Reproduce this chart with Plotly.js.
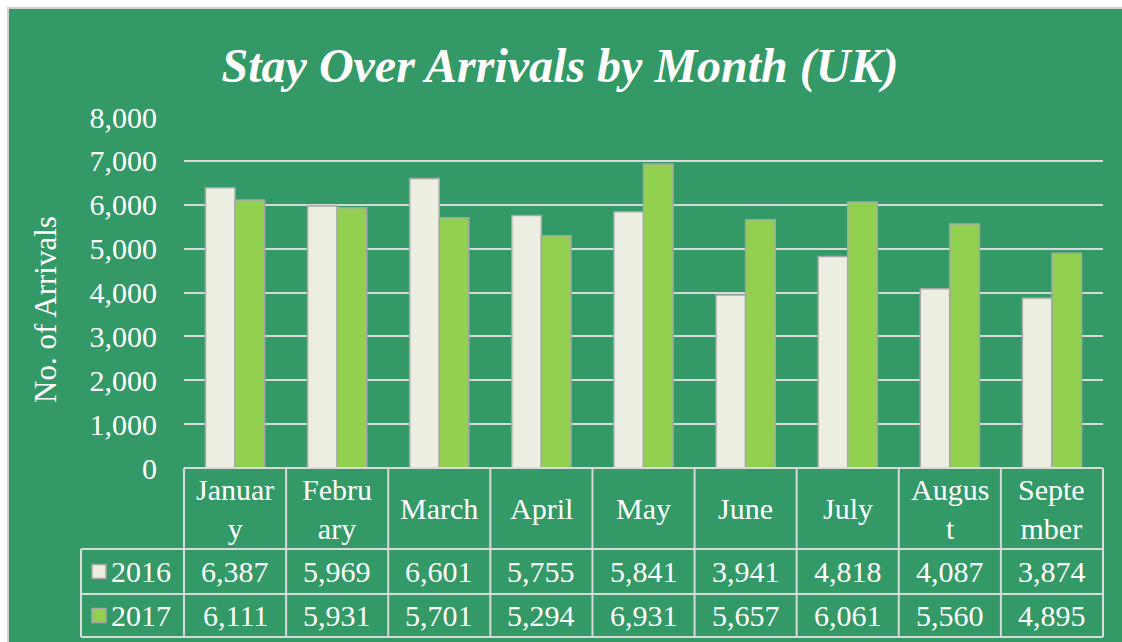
<!DOCTYPE html>
<html>
<head>
<meta charset="utf-8">
<script src="https://cdn.plot.ly/plotly-3.0.1.min.js"></script>
<style>html,body{margin:0;padding:0;background:#fff;}#chart{width:1122px;height:642px;}</style>
</head>
<body>
<div id="chart"></div>
<script>
// ---- data ----
var months = ["January","February","March","April","May","June","July","August","September"];
var monthLabels = ["Januar<br>y","Febru<br>ary","March","April","May","June","July","Augus<br>t","Septe<br>mber"];
var seriesNames = ["2016","2017"];
var values2016 = [6387,5969,6601,5755,5841,3941,4818,4087,3874];
var values2017 = [6111,5931,5701,5294,6931,5657,6061,5560,4895];
var yTickVals = [0,1000,2000,3000,4000,5000,6000,7000,8000];

// ---- style ----
var W = 1122, H = 642;
var L = 184, R = 1103, T = 117, B = 468;
var green = '#339966', lineGray = '#d9d9d9', barEdge = '#a6a6a6';
var c2016 = '#ebeee0', c2017 = '#92d050';
var font = '"Liberation Serif", "Times New Roman", serif';
var pw = R - L, ph = B - T;
function px(x){ return (x - L) / pw; }
function py(y){ return (B - y) / ph; }

var fmt = function(v){ return v.toLocaleString('en-US'); };

var traces = [
  {type:'bar', name:seriesNames[0], x:months, y:values2016,
   marker:{color:c2016, line:{color:barEdge, width:1.5}}, hoverinfo:'x+y'},
  {type:'bar', name:seriesNames[1], x:months, y:values2017,
   marker:{color:c2017, line:{color:barEdge, width:1.5}}, hoverinfo:'x+y'}
];

var shapes = [];
// background panel with top/left border
shapes.push({type:'rect', xref:'paper', yref:'paper', layer:'below',
  x0:px(8), x1:px(1130), y0:py(8), y1:py(660), fillcolor:green,
  line:{color:'#d0d0d0', width:2}});

// table rows (y in pixels)
var rowTop = 468, headBot = 549, r1Bot = 594, r2Bot = 637, legLeft = 81;
var n = months.length;
shapes.push({type:'line', xref:'paper', yref:'paper', x0:0, x1:1, y0:py(rowTop), y1:py(rowTop), line:{color:lineGray, width:2}});
[headBot, r1Bot, r2Bot].forEach(function(yy){
  shapes.push({type:'line', xref:'paper', yref:'paper', x0:px(legLeft), x1:1, y0:py(yy), y1:py(yy), line:{color:lineGray, width:2}});
});
for (var i = 0; i <= n; i++) {
  shapes.push({type:'line', xref:'paper', yref:'paper', x0:i/n, x1:i/n, y0:py(rowTop), y1:py(r2Bot), line:{color:lineGray, width:2}});
}
shapes.push({type:'line', xref:'paper', yref:'paper', x0:px(legLeft), x1:px(legLeft), y0:py(headBot), y1:py(r2Bot), line:{color:lineGray, width:2}});

// legend keys
var keyColors = [c2016, c2017];
var rowMid = [(headBot + r1Bot)/2, (r1Bot + r2Bot)/2];
for (var k = 0; k < 2; k++) {
  shapes.push({type:'rect', xref:'paper', yref:'paper', x0:px(92), x1:px(106),
    y0:py(rowMid[k]-7), y1:py(rowMid[k]+7), fillcolor:keyColors[k], line:{color:'#a6a6a6', width:1.5}});
}

var annotations = [];
var tf = {family:font, size:30, color:'#ffffff'};
for (var j = 0; j < n; j++) {
  annotations.push({xref:'paper', yref:'paper', x:(j+0.5)/n, y:py((rowTop+headBot)/2),
    text:monthLabels[j], showarrow:false, font:tf, xanchor:'center', yanchor:'middle'});
  annotations.push({xref:'paper', yref:'paper', x:(j+0.5)/n, y:py(rowMid[0]),
    text:fmt(values2016[j]), showarrow:false, font:tf, xanchor:'center', yanchor:'middle'});
  annotations.push({xref:'paper', yref:'paper', x:(j+0.5)/n, y:py(rowMid[1]),
    text:fmt(values2017[j]), showarrow:false, font:tf, xanchor:'center', yanchor:'middle'});
}
for (var k2 = 0; k2 < 2; k2++) {
  annotations.push({xref:'paper', yref:'paper', x:px(109), y:py(rowMid[k2]),
    text:seriesNames[k2], showarrow:false, font:tf, xanchor:'left', yanchor:'middle'});
}
// y-axis title
annotations.push({xref:'paper', yref:'paper', x:px(45), y:py(310), text:'No. of Arrivals', textangle:-90,
  showarrow:false, font:{family:font, size:31, color:'#ffffff'}, xanchor:'center', yanchor:'middle'});

var layout = {
  width:W, height:H,
  margin:{l:L, r:W-R, t:T, b:H-B, pad:0},
  paper_bgcolor:'#ffffff', plot_bgcolor:'rgba(0,0,0,0)',
  showlegend:false,
  barmode:'group', bargap:0.42, bargroupgap:0,
  title:{text:'<b><i>Stay Over Arrivals by Month (UK)</i></b>', font:{family:font, size:48, color:'#ffffff'},
    x:560/W, xref:'container', xanchor:'center', y:1-65/H, yref:'container', yanchor:'middle'},
  xaxis:{type:'category', showticklabels:false, showgrid:false, zeroline:false, showline:false, ticks:'',
    range:[-0.5, n-0.5], fixedrange:true},
  yaxis:{range:[0,8000], tickvals:yTickVals, tickformat:',d', showgrid:true, gridcolor:lineGray, gridwidth:2,
    zeroline:false, showline:false, ticks:'', ticklabelstandoff:26,
    tickfont:{family:font, size:30, color:'#ffffff'}, fixedrange:true},
  shapes:shapes, annotations:annotations
};

Plotly.newPlot('chart', traces, layout, {displayModeBar:false, staticPlot:true});
</script>
</body>
</html>
